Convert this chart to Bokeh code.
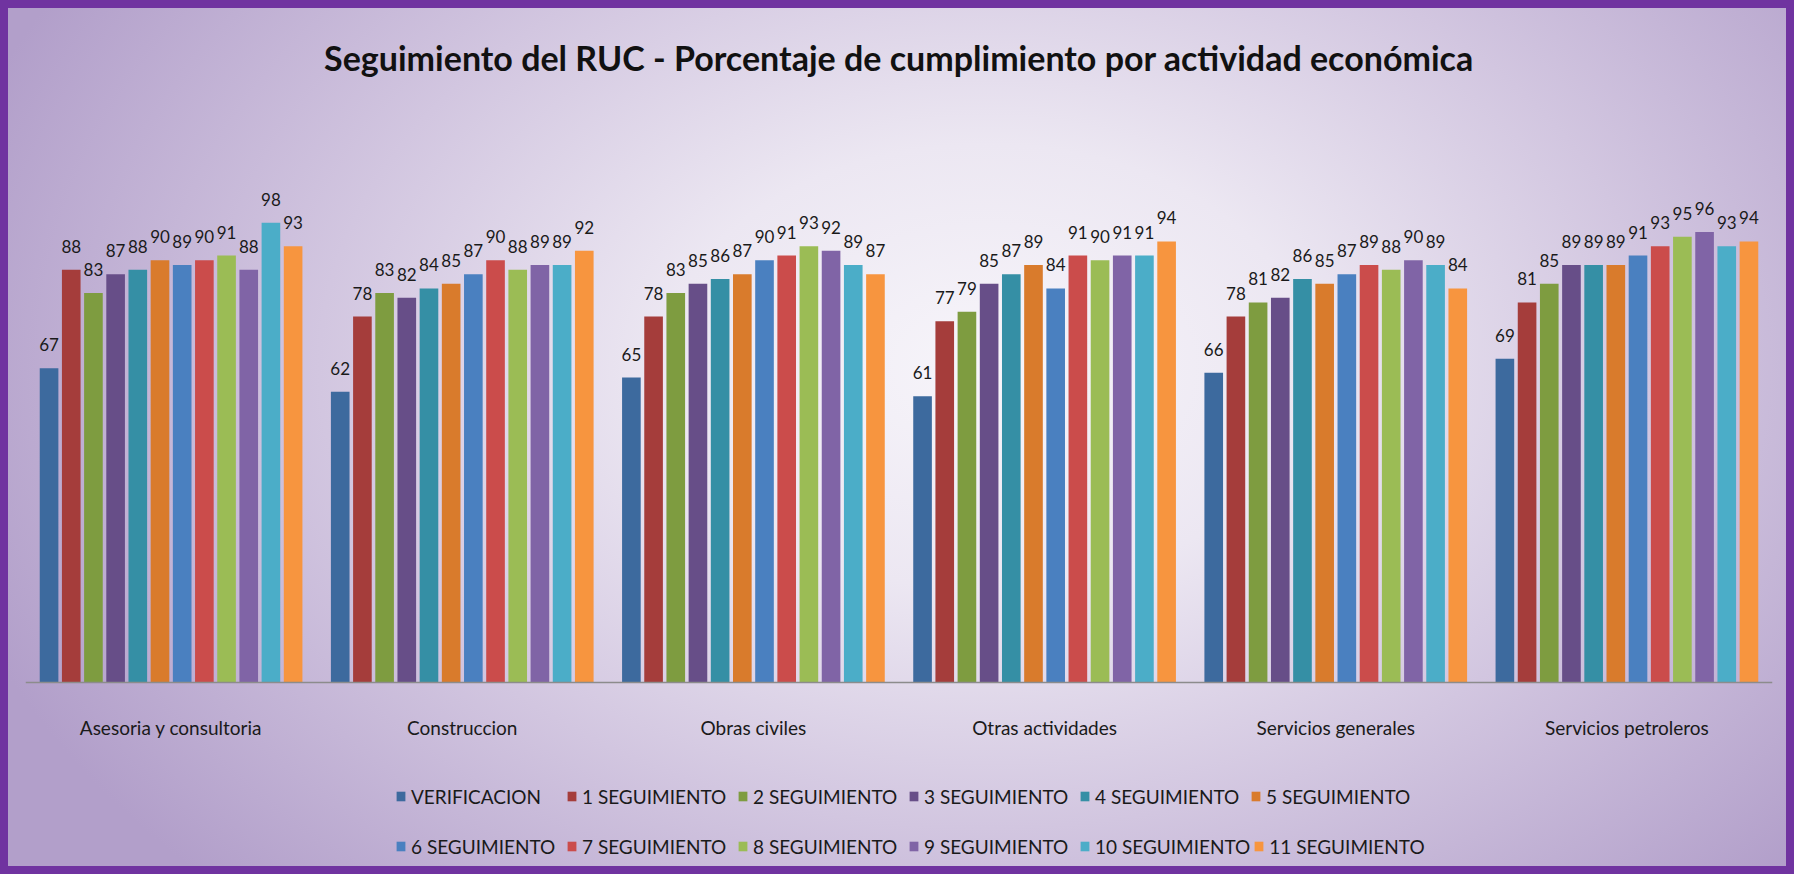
from bokeh.plotting import figure
from bokeh.models import ColumnDataSource, FactorRange, Range1d, Legend, LegendItem
from bokeh.transform import dodge
from bokeh.core.properties import value
from bokeh.embed import file_html
from bokeh.resources import INLINE

categories = ["Asesoria y consultoria", "Construccion", "Obras civiles",
              "Otras actividades", "Servicios generales", "Servicios petroleros"]

series_names = ["VERIFICACION", "1 SEGUIMIENTO", "2 SEGUIMIENTO", "3 SEGUIMIENTO",
                "4 SEGUIMIENTO", "5 SEGUIMIENTO", "6 SEGUIMIENTO", "7 SEGUIMIENTO",
                "8 SEGUIMIENTO", "9 SEGUIMIENTO", "10 SEGUIMIENTO", "11 SEGUIMIENTO"]

verificacion = [67, 62, 65, 61, 66, 69]
seg1 = [88, 78, 78, 77, 78, 81]
seg2 = [83, 83, 83, 79, 81, 85]
seg3 = [87, 82, 85, 85, 82, 89]
seg4 = [88, 84, 86, 87, 86, 89]
seg5 = [90, 85, 87, 89, 85, 89]
seg6 = [89, 87, 90, 84, 87, 91]
seg7 = [90, 90, 91, 91, 89, 93]
seg8 = [91, 88, 93, 90, 88, 95]
seg9 = [88, 89, 92, 91, 90, 96]
seg10 = [98, 89, 89, 91, 89, 93]
seg11 = [93, 92, 87, 94, 84, 94]

series_values = [verificacion, seg1, seg2, seg3, seg4, seg5, seg6,
                 seg7, seg8, seg9, seg10, seg11]

colors = ["#3D6A9E", "#A53D3B", "#7E9C40", "#674E88", "#358FA5", "#D97B2C",
          "#4A80C0", "#CB4C4B", "#9BBC55", "#8064A6", "#4BADC8", "#F7953F"]

title_text = "Seguimiento del RUC - Porcentaje de cumplimiento por actividad económica"

data = {"cat": categories}
for i, vals in enumerate(series_values):
    data[f"s{i}"] = vals
    data[f"t{i}"] = [str(v) for v in vals]
src = ColumnDataSource(data)

p = figure(x_range=FactorRange(*categories), y_range=Range1d(-40.9, 121.7),
           width=1794, height=874, output_backend="svg", toolbar_location=None,
           min_border_left=25, min_border_right=22, min_border_top=110,
           min_border_bottom=0, title=title_text)

p.background_fill_color = None
p.border_fill_color = None
p.outline_line_color = None
p.styles = {
    "background": "radial-gradient(ellipse 60% 85% at 55% 42%, #f7f5fa 0%, #ece7f2 30%, #d2c6e0 62%, #b29fca 100%)",
    "outline": "8px solid #7033a0",
    "outline-offset": "-8px",
}

p.title.text_font = "Lato"
p.title.text_font_size = "34px"
p.title.text_font_style = "bold"
p.title.text_color = "#111111"
p.title.align = "center"
p.title.standoff = 68

p.grid.visible = False
p.yaxis.visible = False
p.xaxis.fixed_location = 0
p.xaxis.axis_line_color = "#8c8c8c"
p.xaxis.axis_line_width = 1.5
p.xaxis.major_tick_line_color = None
p.xaxis.minor_tick_line_color = None
p.xaxis.major_tick_out = 0
p.xaxis.major_tick_in = 0
p.xaxis.major_label_text_font = "Lato"
p.xaxis.major_label_text_font_size = "19px"
p.xaxis.major_label_text_color = "#1a1a1a"
p.xaxis.major_label_standoff = 33

pitch = 0.0762
bar_w = 0.064
items = []
for i, name in enumerate(series_names):
    off = (i - 5.5) * pitch
    r = p.vbar(x=dodge("cat", off, range=p.x_range), top=f"s{i}", width=bar_w,
               source=src, fill_color=colors[i], line_color=None)
    p.text(x=dodge("cat", off, range=p.x_range), y=f"s{i}", text=f"t{i}",
           source=src, text_font=value("Lato"), text_font_size="17px",
           text_color="#1a1a1a", text_align="center", text_baseline="bottom",
           y_offset=-17)
    items.append(LegendItem(label=name, renderers=[r]))


def make_legend(its, vy):
    return Legend(items=its, orientation="horizontal", location=(370, vy),
                  background_fill_alpha=0, border_line_color=None,
                  label_text_font="Lato", label_text_font_size="19px",
                  label_text_color="#1a1a1a", glyph_width=11, glyph_height=12,
                  label_standoff=5, label_width=152, label_height=24,
                  spacing=3, padding=0, margin=0)


p.add_layout(make_legend(items[:6], 66))
p.add_layout(make_legend(items[6:], 16))

open("out.html", "w").write(file_html(p, INLINE))
